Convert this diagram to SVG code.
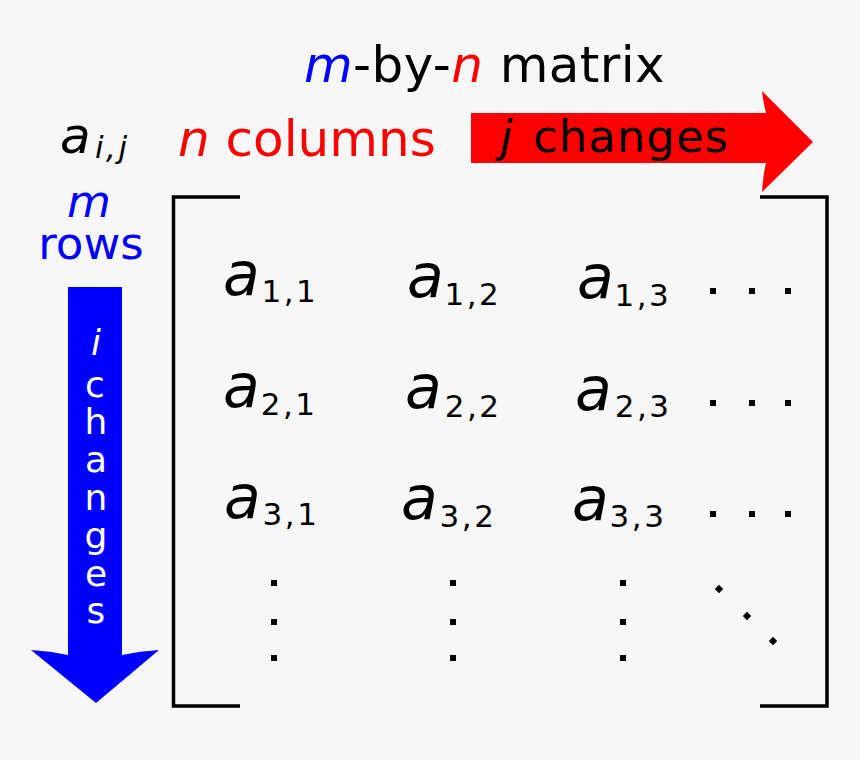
<svg xmlns="http://www.w3.org/2000/svg" width="860" height="760" viewBox="0 0 860 760">
  <style>
    text { font-family: "DejaVu Sans", "Liberation Sans", sans-serif; }
    .it { font-style: italic; }
    .big { font-size: 60px; fill: #000; }
    .sub { font-size: 31px; fill: #000; letter-spacing: 2.5px; }
    .lbl { font-size: 50px; }
    .dot { fill: #000; }
    .br { fill: none; stroke: #000; stroke-width: 3.5; stroke-linejoin: miter; stroke-linecap: butt; }
    .vl { font-size: 36px; fill: #fff; text-anchor: middle; }
  </style>
  <rect x="0" y="0" width="860" height="760" fill="#f7f7f7"/>

  <g id="title">
    <text x="304" y="82" class="lbl" fill="#000" letter-spacing="0.4"><tspan class="it" fill="#0000ff">m</tspan>-by-<tspan class="it" fill="#ff0000">n</tspan> matrix</text>
  </g>

  <g id="aij">
    <text x="60" y="153" class="lbl it" fill="#000">a</text>
    <text x="95" y="158" class="sub it" letter-spacing="2">i,j</text>
  </g>

  <g id="n-columns">
    <text x="178" y="156" class="lbl" fill="#ff0000"><tspan class="it">n</tspan> columns</text>
  </g>

  <g id="m-rows">
    <text font-size="45" fill="#0000ff" text-anchor="middle"><tspan x="89" y="217" class="it">m</tspan><tspan x="91" y="259">rows</tspan></text>
  </g>

  <g id="j-arrow">
    <path d="M471,113 L766,113 Q763,101 762,91 L813,142 L762,192 Q763,176 766,163 L471,163 Z" fill="#ff0000"/>
    <text x="500" y="152" font-size="45" class="it" fill="#000">j</text>
    <text x="533" y="152" font-size="45" letter-spacing="1" fill="#000">changes</text>
  </g>

  <g id="i-arrow">
    <path d="M68,287 L122,287 L122,655 Q140,651 159,650 L96,703 L31,650 Q50,651 68,655 Z" fill="#0000ff"/>
    <text x="96" y="355" class="vl it">i</text>
    <text x="95" y="397" class="vl">c</text>
    <text x="96" y="434" class="vl">h</text>
    <text x="96" y="472" class="vl">a</text>
    <text x="96" y="510" class="vl">n</text>
    <text x="96" y="548" class="vl">g</text>
    <text x="96" y="586" class="vl">e</text>
    <text x="96" y="623" class="vl">s</text>
  </g>

  <g id="brackets">
    <path class="br" d="M240,197 H173.5 V706 H240"/>
    <path class="br" d="M760,197 H827 V706 H760"/>
  </g>

  <g id="a11"><text x="223" y="295" class="big it">a</text><text x="261.5" y="302" class="sub">1,1</text></g>
  <g id="a12"><text x="407" y="297" class="big it">a</text><text x="444.5" y="305" class="sub">1,2</text></g>
  <g id="a13"><text x="577" y="298" class="big it">a</text><text x="614.5" y="306" class="sub">1,3</text></g>
  <g id="a21"><text x="223" y="407" class="big it">a</text><text x="260.8" y="415" class="sub">2,1</text></g>
  <g id="a22"><text x="405" y="408" class="big it">a</text><text x="444.8" y="417" class="sub">2,2</text></g>
  <g id="a23"><text x="575" y="410" class="big it">a</text><text x="614.8" y="417" class="sub">2,3</text></g>
  <g id="a31"><text x="224" y="518" class="big it">a</text><text x="262.6" y="525" class="sub">3,1</text></g>
  <g id="a32"><text x="401" y="519" class="big it">a</text><text x="439.6" y="527" class="sub">3,2</text></g>
  <g id="a33"><text x="572" y="520" class="big it">a</text><text x="609.6" y="527" class="sub">3,3</text></g>

  <g id="hdots">
    <rect class="dot" x="710" y="288" width="6" height="6"/>
    <rect class="dot" x="749" y="288" width="6" height="6"/>
    <rect class="dot" x="785" y="288" width="6" height="6"/>
    <rect class="dot" x="710" y="400" width="6" height="6"/>
    <rect class="dot" x="749" y="400" width="6" height="6"/>
    <rect class="dot" x="785" y="400" width="6" height="6"/>
    <rect class="dot" x="710" y="511" width="6" height="6"/>
    <rect class="dot" x="749" y="511" width="6" height="6"/>
    <rect class="dot" x="785" y="511" width="6" height="6"/>
  </g>
  <g id="vdots">
    <rect class="dot" x="271" y="580" width="6" height="6"/>
    <rect class="dot" x="271" y="619" width="6" height="6"/>
    <rect class="dot" x="271" y="655" width="6" height="6"/>
    <rect class="dot" x="450" y="580" width="6" height="6"/>
    <rect class="dot" x="450" y="619" width="6" height="6"/>
    <rect class="dot" x="450" y="655" width="6" height="6"/>
    <rect class="dot" x="620" y="580" width="6" height="6"/>
    <rect class="dot" x="620" y="619" width="6" height="6"/>
    <rect class="dot" x="620" y="655" width="6" height="6"/>
  </g>
  <g id="ddots">
    <rect class="dot" x="716" y="586" width="6" height="6" transform="rotate(45 719 589)"/>
    <rect class="dot" x="744" y="613" width="6" height="6" transform="rotate(45 747 616)"/>
    <rect class="dot" x="770" y="638" width="6" height="6" transform="rotate(45 773 641)"/>
  </g>
</svg>
